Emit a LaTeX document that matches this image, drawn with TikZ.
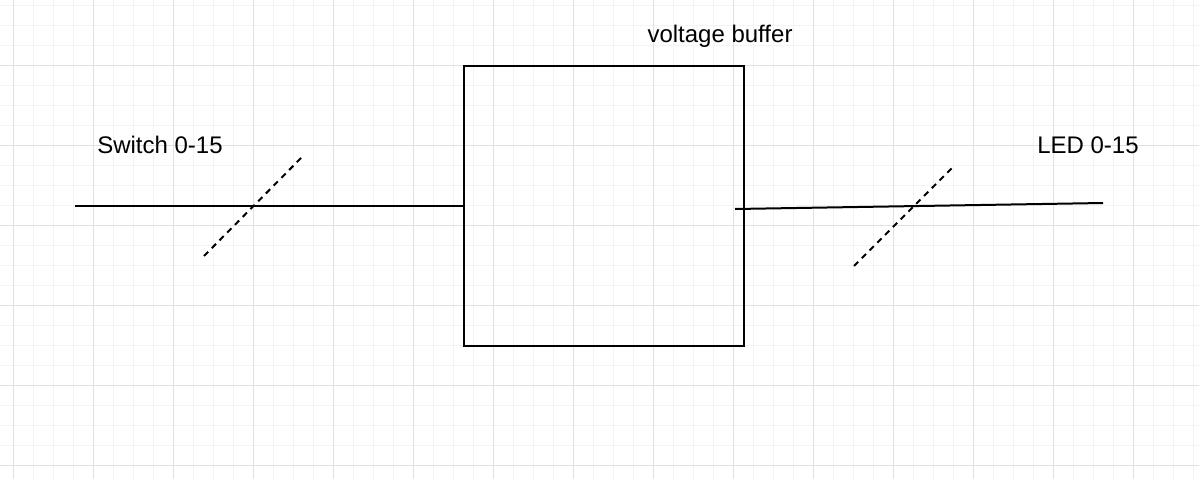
\documentclass[tikz,border=0pt]{standalone}
\usepackage{fontspec}
\setmainfont{Liberation Sans}
\usetikzlibrary{calc, positioning}
\definecolor{minorgrid}{HTML}{F3F3F3}
\definecolor{majorgrid}{HTML}{E0E0E0}
\tikzset{
    buffer/.style={draw, line width=2pt, minimum width=280pt, minimum height=280pt, inner sep=0pt},
    busline/.style={line width=2pt},
    buswidth/.style={line width=2pt, dash pattern=on 6pt off 5pt},
    lbl/.style={font=\fontsize{24}{28}\selectfont, inner sep=0pt}
}
\begin{document}
\begin{tikzpicture}[x=1pt, y=-1pt]
\useasboundingbox (0,0) rectangle (1199,479);
\fill[white] (0,0) rectangle (1199,479);
\foreach \v in 
{0,...,59}
{
    \draw[minorgrid, line width=1pt]  ({13+20*\v} , {0})  -- ({13+20*\v}, {479});
}
\foreach \v in 
{0,...,23}
{
    \draw[minorgrid, line width=1pt]  ({0} , {5+20*\v})  -- ({1199}, {5+20*\v});
}
\foreach \v in 
{0,...,14}
{
    \draw[majorgrid, line width=1pt]  ({13+80*\v} , {0})  -- ({13+80*\v}, {479});
}
\foreach \v in 
{0,...,5}
{
    \draw[majorgrid, line width=1pt]  ({0} , {65+80*\v})  -- ({1199}, {65+80*\v});
}

\node[buffer, anchor=north west] (buf) at (463,65) {};
\node[lbl] (buflabel) at (720,36) {voltage buffer};
\node[lbl] (inlabel) at (160,145) {Switch 0-15};
\node[lbl] (outlabel) at (1088,145) {LED 0-15};

\coordinate (inend) at (75,206);
\coordinate (outstart) at (735,209);
\coordinate (outend) at (1103,203);
\draw[busline] (inend) -- (inend -| buf.west);
\draw[busline] (outstart) -- (outend);

\coordinate (slashA1) at (204,256);
\coordinate (slashA2) at (302,157);
\coordinate (slashB1) at (854,266);
\coordinate (slashB2) at (952,168);
\draw[buswidth] (slashA1) -- (slashA2);
\draw[buswidth] (slashB1) -- (slashB2);
\end{tikzpicture}
\end{document}
